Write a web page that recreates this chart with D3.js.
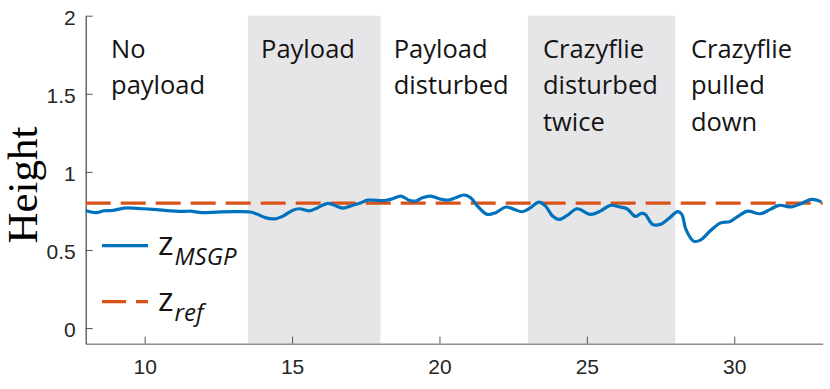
<!DOCTYPE html>
<html>
<head>
<meta charset="utf-8">
<script src="https://cdn.jsdelivr.net/npm/d3@7"></script>
<style>
	body { margin: 0; background: #fff; }
	svg { display: block; }
</style>
</head>
<body>
<svg width="830" height="389"></svg>
<script>
// Time stamps of the measured height (s).
var time_data = [8.0, 8.34, 8.62, 8.90, 9.30, 9.63, 9.97, 10.42, 10.88, 11.33, 11.55, 11.95, 12.45, 13.02,
	13.58, 13.81, 14.09, 14.40, 14.69, 15.03, 15.25, 15.59, 15.87, 16.21, 16.44, 16.72, 17.06, 17.34, 17.56,
	17.85, 18.13, 18.41, 18.69, 18.97, 19.20, 19.42, 19.71, 19.99, 20.27, 20.55, 20.84, 21.06, 21.29, 21.62,
	21.91, 22.25, 22.53, 22.81, 23.09, 23.37, 23.60, 23.82, 24.05, 24.33, 24.67, 25.12, 25.46, 25.80, 26.08,
	26.36, 26.65, 26.85, 26.98, 27.23, 27.49, 27.77, 28.08, 28.22, 28.36, 28.62, 28.85, 29.18, 29.52, 29.86,
	30.14, 30.45, 30.88, 31.22, 31.52, 31.95, 32.28, 32.62, 32.95];

// Height estimated by MSGP.
var z_msgp = [0.753, 0.739, 0.751, 0.753, 0.768, 0.768, 0.764, 0.758, 0.751, 0.747, 0.749, 0.739, 0.743, 0.745,
	0.743, 0.730, 0.707, 0.699, 0.717, 0.755, 0.764, 0.751, 0.771, 0.798, 0.786, 0.768, 0.786, 0.803, 0.819,
	0.818, 0.816, 0.828, 0.845, 0.819, 0.813, 0.835, 0.845, 0.828, 0.819, 0.835, 0.852, 0.835, 0.781, 0.728,
	0.739, 0.775, 0.760, 0.745, 0.771, 0.807, 0.781, 0.721, 0.696, 0.721, 0.764, 0.728, 0.749, 0.786, 0.777,
	0.764, 0.715, 0.734, 0.728, 0.664, 0.664, 0.700, 0.745, 0.728, 0.632, 0.557, 0.563, 0.621, 0.672, 0.683,
	0.717, 0.749, 0.732, 0.760, 0.786, 0.776, 0.798, 0.824, 0.809];

// Reference height.
var z_ref = 0.8;

// Experiment phases: start, end, shaded or not, label lines and label position.
var phase_start = [8, 13.5, 18, 23, 28];
var phase_end = [13.5, 18, 23, 28, 33];
var phase_shaded = [false, true, false, true, false];
var phase_label_x = [8.86, 13.95, 18.45, 23.51, 28.53];
var phase_labels = [
	["No", "payload"],
	["Payload"],
	["Payload", "disturbed"],
	["Crazyflie", "disturbed", "twice"],
	["Crazyflie", "pulled", "down"]
];

// Axis ranges and ticks.
var x_domain = [8, 33];
var y_domain = [-0.1, 2];
var x_ticks = [10, 15, 20, 25, 30];
var y_ticks = [0, 0.5, 1, 1.5, 2];

var svg = d3.select("svg");
var margin = { left: 85.7, right: 7.3, top: 15.7, bottom: 45.3 };
var width = +svg.attr("width") - margin.left - margin.right;
var height = +svg.attr("height") - margin.top - margin.bottom;

var x = d3.scaleLinear().domain(x_domain).range([0, width]);
var y = d3.scaleLinear().domain(y_domain).range([height, 0]);

var g = svg.append("g").attr("transform", "translate(" + margin.left + "," + margin.top + ")");

// Shaded phases.
g.append("g")
	.selectAll("rect")
	.data(d3.range(phase_start.length).filter(function(i) { return phase_shaded[i]; }))
	.enter()
	.append("rect")
	.attr("x", function(i) { return x(phase_start[i]); })
	.attr("y", 0)
	.attr("width", function(i) { return x(phase_end[i]) - x(phase_start[i]); })
	.attr("height", height)
	.attr("fill", "#e6e6e9");

// Phase labels, one tspan per line.
var labels = g.append("g")
	.selectAll("text")
	.data(d3.range(phase_labels.length))
	.enter()
	.append("text")
	.attr("font-family", "'Open Sans', sans-serif")
	.attr("font-size", 25.5)
	.attr("fill", "#141414");
labels.selectAll("tspan")
	.data(function(i) {
		return phase_labels[i].map(function(s, k) { return { text: s, k: k, px: phase_label_x[i] }; });
	})
	.enter()
	.append("tspan")
	.attr("x", function(d) { return x(d.px); })
	.attr("y", function(d) { return 42.6 + d.k * 36.2; })
	.text(function(d) { return d.text; });

// Axes: MATLAB style, inward ticks, left and bottom only.
var x_axis = g.append("g")
	.attr("transform", "translate(0," + height + ")")
	.call(d3.axisBottom(x).tickValues(x_ticks).tickSizeInner(-7).tickSizeOuter(0).tickPadding(15));
x_axis.select(".domain").attr("stroke", "#8c8c8c").attr("stroke-width", 1.6);
x_axis.selectAll(".tick line").attr("stroke", "#555");
x_axis.selectAll(".tick text")
	.attr("font-family", "'Liberation Sans', Arial, sans-serif")
	.attr("font-size", 21)
	.attr("fill", "#262626");

var y_axis = g.append("g")
	.call(d3.axisLeft(y).tickValues(y_ticks).tickFormat(d3.format("~g"))
		.tickSizeInner(-7).tickSizeOuter(0).tickPadding(10));
y_axis.select(".domain").attr("stroke", "#444").attr("stroke-width", 1.2);
y_axis.selectAll(".tick line").attr("stroke", "#555");
y_axis.selectAll(".tick text")
	.attr("font-family", "'Liberation Sans', Arial, sans-serif")
	.attr("font-size", 21)
	.attr("fill", "#262626")
	.attr("dy", "0.42em");

// Reference height, dashed.
g.append("line")
	.attr("x1", x(x_domain[0]))
	.attr("x2", x(x_domain[1]))
	.attr("y1", y(z_ref))
	.attr("y2", y(z_ref))
	.attr("stroke", "#d95319")
	.attr("stroke-width", 3.2)
	.attr("stroke-dasharray", "25,10");

// Estimated height.
var line = d3.line()
	.x(function(d, i) { return x(time_data[i]); })
	.y(function(d) { return y(d); })
	.curve(d3.curveCatmullRom.alpha(0.5));

g.append("path")
	.datum(z_msgp)
	.attr("d", line)
	.attr("fill", "none")
	.attr("stroke", "#0072bd")
	.attr("stroke-width", 3.2)
	.attr("stroke-linejoin", "round");

// Y axis title.
svg.append("text")
	.attr("transform", "translate(37,185) rotate(-90)")
	.attr("text-anchor", "middle")
	.attr("font-family", "'Liberation Serif', 'Times New Roman', serif")
	.attr("font-size", 43)
	.attr("fill", "#000")
	.text("Height");

// Legend.
var legend_names = ["MSGP", "ref"];
var legend_colors = ["#0072bd", "#d95319"];
var legend_dash = [null, "24,10"];
var legend = svg.append("g")
	.selectAll("g")
	.data(d3.range(legend_names.length))
	.enter()
	.append("g")
	.attr("transform", function(i) { return "translate(102," + (245.7 + i * 56) + ")"; });
legend.append("line")
	.attr("x1", 0)
	.attr("x2", 46)
	.attr("stroke", function(i) { return legend_colors[i]; })
	.attr("stroke-width", 3.2)
	.attr("stroke-dasharray", function(i) { return legend_dash[i]; });
var legend_text = legend.append("text")
	.attr("x", 56)
	.attr("y", 9)
	.attr("font-family", "'Open Sans', sans-serif")
	.attr("fill", "#141414");
legend_text.append("tspan")
	.attr("font-size", 33)
	.text("z");
legend_text.append("tspan")
	.attr("dx", 1)
	.attr("dy", 10)
	.attr("font-size", 24)
	.attr("font-style", "italic")
	.text(function(i) { return legend_names[i]; });
</script>
</body>
</html>
